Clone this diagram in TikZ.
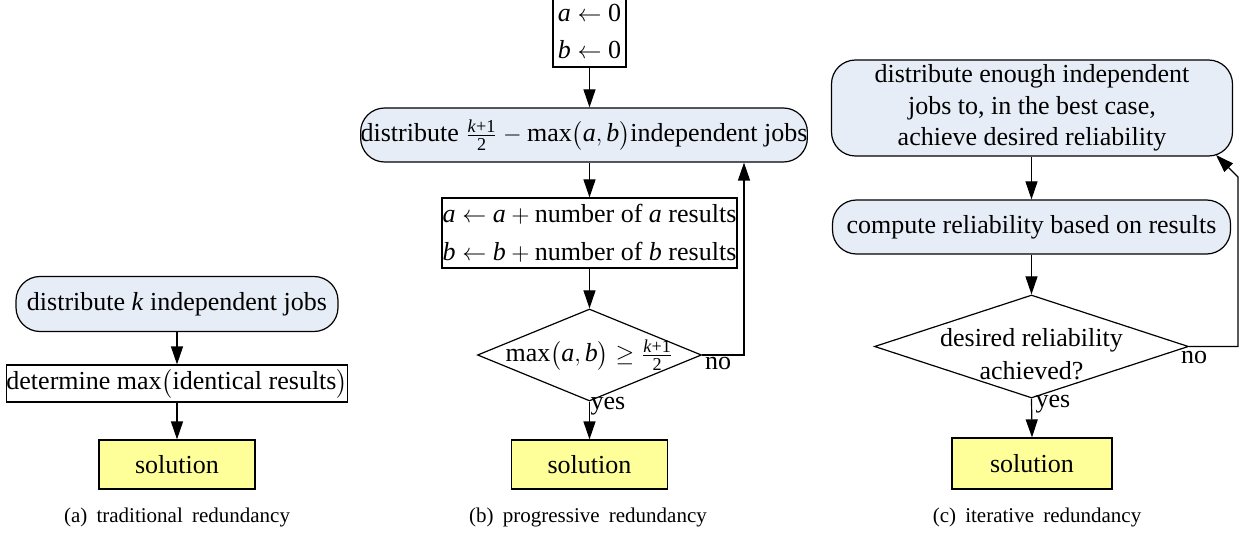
\documentclass[tikz,border=0pt]{standalone}
\usepackage{amsmath}
\usepackage{fontspec}
\setmainfont{Liberation Serif}
\usetikzlibrary{shapes.geometric,arrows.meta}
\definecolor{procfill}{RGB}{231,237,247}
\definecolor{solfill}{RGB}{255,255,153}
\newcommand{\vi}[1]{\textit{#1}}
\newcommand{\capgap}{\hspace{4.6pt}}
\begin{document}
\begin{tikzpicture}[x=0.5pt,y=-0.5pt,
  every node/.style={font=\fontsize{13}{15.75}\selectfont, inner sep=0pt},
  proc/.style={draw, rectangle, rounded corners=12pt, fill=procfill, line width=0.6pt, align=center},
  box/.style={draw, rectangle, fill=white, line width=0.6pt, align=center},
  sol/.style={draw, rectangle, fill=solfill, line width=0.6pt},
  dec/.style={draw, diamond, fill=white, line width=0.6pt},
  flow/.style={-{Triangle[length=9pt,width=6pt]}, line width=0.6pt},
  plain/.style={line width=0.6pt},
  captext/.style={font=\fontsize{10.5}{12}\selectfont}
]
\useasboundingbox (0,0) rectangle (1244,535);

% ---------- (a) ----------
\node[proc, minimum width=161pt, minimum height=27.5pt] (A1) at (177,304) {distribute \vi{k} independent jobs};
\node[box, minimum width=168.5pt, minimum height=18.5pt] (A2) at (177,383.5) {determine max$\bigl($identical results$\bigr)$};
\node[sol, minimum width=78pt, minimum height=24.5pt] (A3) at (177,464.5) {solution};
\node[captext] (Acap) at (177,517) {(a)\capgap traditional\capgap redundancy};
\draw[flow] (A1.south) -- (A2.north);
\draw[flow] (A2.south) -- (A3.north);

% ---------- (b) ----------
\node[box, minimum width=36.5pt, minimum height=36pt] (B0) at (589.5,31) {$\vi{a}\leftarrow \text{0}$\\[2.75pt]$\vi{b}\leftarrow \text{0}$};
\node[proc, minimum width=218pt, minimum height=27pt] (B1) at (584,135) {distribute $\frac{\text{\vi{k}+1}}{\text{2}} - \text{max}\bigl(\vi{a},\vi{b}\bigr)$independent jobs};
\node[box, minimum width=147.5pt, minimum height=35pt] (B2) at (589.5,233) {$\vi{a}\leftarrow \vi{a} + \text{number of \vi{a} results}$\\[3.25pt]$\vi{b}\leftarrow \vi{b} + \text{number of \vi{b} results}$};
\node[dec, minimum width=112pt, minimum height=46pt] (B3) at (589.5,355) {};
\node (B3t) at (589.5,355) {$\text{max}\bigl(\vi{a},\vi{b}\bigr)\geq \frac{\text{\vi{k}+1}}{\text{2}}$};
\node[sol, minimum width=78pt, minimum height=24.5pt] (B4) at (589.5,464.5) {solution};
\node[captext] (Bcap) at (588,517) {(b)\capgap progressive\capgap redundancy};
\node (Bno) at (718,364) {no};
\node (Byes) at (608,406) {yes};
\coordinate (bcorner) at (744,355);
\draw[flow] (B0.south) -- (B0.south |- B1.north);
\draw[flow] (B2.north |- B1.south) -- (B2.north);
\draw[flow] (B2.south) -- (B3.north);
\draw[flow] (B3.south) -- (B4.north);
\draw[flow] (B3.east) -- (bcorner) -- (bcorner |- B1.south);

% ---------- (c) ----------
\node[proc, minimum width=200.5pt, minimum height=48pt] (C1) at (1032,108) {distribute enough independent\\jobs to, in the best case,\\achieve desired reliability};
\node[proc, minimum width=199pt, minimum height=27pt] (C2) at (1031.5,227) {compute reliability based on results};
\node[dec, minimum width=157pt, minimum height=51.5pt] (C3) at (1031.5,346.5) {};
\node[align=center, font=\fontsize{13}{16.5}\selectfont] (C3t) at (1031.5,354) {desired reliability\\achieved?};
\node[sol, minimum width=80pt, minimum height=25.5pt] (C4) at (1032,463.5) {solution};
\node[captext] (Ccap) at (1037,517) {(c)\capgap iterative\capgap redundancy};
\node (Cno) at (1194,358) {no};
\node (Cyes) at (1053,404) {yes};
\coordinate (ccorner) at (1238,346.5);
\coordinate (cbend) at (1238,177);
\coordinate (ctip) at (1216,155);
\draw[flow] (C1.south -| C2.north) -- (C2.north);
\draw[flow] (C2.south) -- (C3.north);
\draw[flow] (C3.south) -- (C4.north);
\draw[flow] (C3.east) -- (ccorner) -- (cbend) -- (ctip);
\end{tikzpicture}
\end{document}
